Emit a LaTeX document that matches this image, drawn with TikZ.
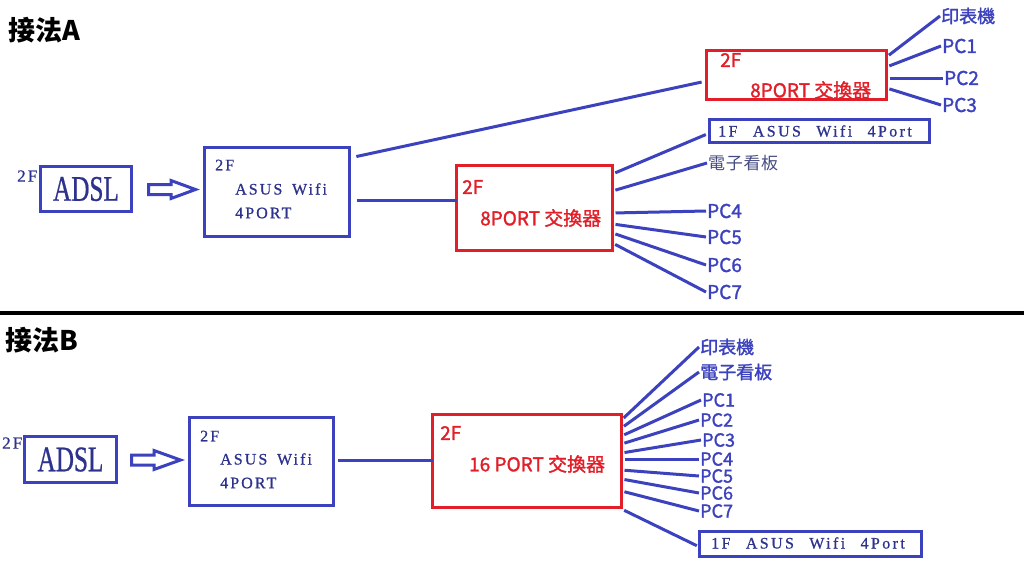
\documentclass[tikz,border=0pt]{standalone}
\usepackage{fontspec}
\setmainfont{Liberation Serif}
\newfontfamily\cjk[FakeBold=1.5]{Noto Sans CJK TC}
\newfontfamily\cjkt{Noto Sans CJK TC}
\newfontfamily\msr[LetterSpace=13,WordSpace=1.6,FakeBold=0.8]{Liberation Serif}
\newfontfamily\msrw[LetterSpace=15,WordSpace=2.4,FakeBold=0.8]{Liberation Serif}
\newfontfamily\adslfont[FakeBold=0.8]{Liberation Serif}
\newcommand\fsz[1]{\fontsize{#1}{#1}\selectfont}
\definecolor{cblue}{RGB}{60,66,190}
\definecolor{cnavy}{RGB}{45,50,140}
\definecolor{cred}{RGB}{226,30,40}
\definecolor{cgrey}{RGB}{70,76,130}
\begin{document}
\begin{tikzpicture}[x=1pt,y=-1pt,
  bx/.style={draw, line width=3pt, anchor=north west, inner sep=0pt, outer sep=0pt},
  bluebox/.style={bx, draw=cblue},
  redbox/.style={bx, draw=cred},
  wire/.style={draw=cblue, line width=3pt, shorten <=3pt},
  lbl/.style={anchor=west, inner sep=1pt, text=cblue, font=\cjk\fsz{19}},
  lblb/.style={lbl, font=\cjk\fsz{18}},
  ctxt/.style={anchor=west, inner sep=1pt, text=cblue, font=\cjk\fsz{18}},
  rtxt/.style={anchor=west, inner sep=2pt, text=cred, font=\cjk\fsz{19}},
  stxt/.style={anchor=west, inner sep=2pt, text=cnavy, font=\msr\fsz{16}},
  wtxt/.style={stxt, font=\msrw\fsz{16}},
  ttl/.style={anchor=west, inner sep=0pt, font=\cjkt\bfseries\fsz{27}},
  harrow/.style={draw=cblue, line width=3pt, line join=miter}]
\useasboundingbox[fill=white] (0,0) rectangle (1024,571);

% ---------------- A ----------------
\node[ttl] (titleA) at (8,30) {接法A};
\node[stxt, font=\msr\fsz{17}] (adslA2F) at (15,176) {2F};
\node[bluebox, minimum width=91pt, minimum height=45pt] (adslA) at (40.5,166.5) {};
\node[text=cnavy, font=\adslfont\fsz{36}, inner sep=0pt] (adslAt) at (adslA.center) {\scalebox{0.7}[1]{ADSL}};
\draw[harrow] (148.5,184.5) -- (171,184.5) -- (171,180.5) -- (195.5,189.5) -- (171,198.5) -- (171,194.5) -- (148.5,194.5) -- cycle;
\node[bluebox, minimum width=145pt, minimum height=89pt] (asusA) at (204.5,147.5) {};
\node[stxt] (asusA2F) at (213,165) {2F};
\node[stxt] (asusAt1) at (233,189) {ASUS Wifi};
\node[stxt] (asusAt2) at (233,213) {4PORT};

\node[redbox, minimum width=180pt, minimum height=49pt] (swTop) at (706.5,50.5) {};
\node[rtxt] (swTop2F) at (718,60) {2F};
\node[rtxt] (swTopt) at (748,90) {8PORT 交換器};

\node[redbox, minimum width=156pt, minimum height=85pt] (swMid) at (456.5,165.5) {};
\node[rtxt] (swMid2F) at (460,187) {2F};
\node[rtxt] (swMidt) at (478,218) {8PORT 交換器};

\node[bluebox, minimum width=220pt, minimum height=23pt] (oneFA) at (709.5,119.5) {};
\node[wtxt] (oneFAt) at (716,131) {1F ASUS Wifi 4Port};

\node[ctxt] (prnA) at (940,16) {印表機};
\node[lbl] (pc1A) at (941,46) {PC1};
\node[lbl] (pc2A) at (943,78) {PC2};
\node[lbl] (pc3A) at (941,105) {PC3};
\node[ctxt, text=cgrey, font=\cjkt\addfontfeature{LetterSpace=4}\fsz{17}] (signA) at (707,163) {電子看板};
\node[lbl] (pc4A) at (706,211) {PC4};
\node[lbl] (pc5A) at (706,237) {PC5};
\node[lbl] (pc6A) at (706,265) {PC6};
\node[lbl] (pc7A) at (706,292) {PC7};

\draw[wire, shorten <=7pt, shorten >=5pt] (asusA.east |- 0,158) -- (swTop.west |- 0,81);
\draw[wire, shorten <=7pt] (asusA.east |- 0,200) -- (swMid.west |- 0,200);

\draw[wire] (swTop.east |- 0,57) -- (prnA.west);
\draw[wire] (swTop.east |- 0,67) -- (pc1A.west);
\draw[wire] (swTop.east |- 0,78) -- (pc2A.west);
\draw[wire] (swTop.east |- 0,88) -- (pc3A.west);

\draw[wire, shorten >=4pt] (swMid.east |- 0,174) -- (oneFA.west |- 0,133);
\draw[wire] (swMid.east |- 0,191) -- (signA.west);
\draw[wire] (swMid.east |- 0,213) -- (pc4A.west);
\draw[wire] (swMid.east |- 0,224) -- (pc5A.west);
\draw[wire] (swMid.east |- 0,233) -- (pc6A.west);
\draw[wire] (swMid.east |- 0,243) -- (pc7A.west);

% divider
\draw[line width=3.5pt, black] (0,313) -- (1024,313);

% ---------------- B ----------------
\node[ttl] (titleB) at (5,340) {接法B};
\node[stxt, font=\msr\fsz{17}] (adslB2F) at (0,443) {2F};
\node[bluebox, minimum width=92pt, minimum height=46pt] (adslB) at (24.5,436.5) {};
\node[text=cnavy, font=\adslfont\fsz{36}, inner sep=0pt] (adslBt) at (adslB.center) {\scalebox{0.7}[1]{ADSL}};
\draw[harrow] (131.5,455) -- (154,455) -- (154,450.5) -- (180.5,460) -- (154,469.5) -- (154,465) -- (131.5,465) -- cycle;
\node[bluebox, minimum width=144pt, minimum height=88pt] (asusB) at (189.5,417.5) {};
\node[stxt] (asusB2F) at (198,436) {2F};
\node[stxt] (asusBt1) at (218,459) {ASUS Wifi};
\node[stxt] (asusBt2) at (218,483) {4PORT};

\node[redbox, minimum width=189pt, minimum height=93pt] (swB) at (432.5,414.5) {};
\node[rtxt] (swB2F) at (438,433) {2F};
\node[rtxt] (swBt) at (467,464) {16 PORT 交換器};

\node[bluebox, minimum width=222pt, minimum height=25pt] (oneFB) at (699.5,531.5) {};
\node[wtxt] (oneFBt) at (709,543) {1F ASUS Wifi 4Port};

\node[ctxt] (prnB) at (699,347) {印表機};
\node[ctxt] (signB) at (699,372) {電子看板};
\node[lblb] (pc1B) at (701,400) {PC1};
\node[lblb] (pc2B) at (699,420) {PC2};
\node[lblb] (pc3B) at (701,440) {PC3};
\node[lblb] (pc4B) at (699,459) {PC4};
\node[lblb] (pc5B) at (699,476) {PC5};
\node[lblb] (pc6B) at (699,493) {PC6};
\node[lblb] (pc7B) at (699,511) {PC7};

\draw[wire, shorten <=4pt] (asusB.east |- 0,460) -- (swB.west |- 0,460);

\draw[wire] (swB.east |- 0,420) -- (prnB.west);
\draw[wire] (swB.east |- 0,428) -- (signB.west);
\draw[wire] (swB.east |- 0,436) -- (pc1B.west);
\draw[wire] (swB.east |- 0,444) -- (pc2B.west);
\draw[wire] (swB.east |- 0,453) -- (pc3B.west);
\draw[wire] (swB.east |- 0,459) -- (pc4B.west);
\draw[wire] (swB.east |- 0,470) -- (pc5B.west);
\draw[wire] (swB.east |- 0,479) -- (pc6B.west);
\draw[wire] (swB.east |- 0,491) -- (pc7B.west);
\draw[wire, shorten >=3pt] (swB.east |- 0,509) -- (oneFB.west |- 0,547);
\end{tikzpicture}
\end{document}
